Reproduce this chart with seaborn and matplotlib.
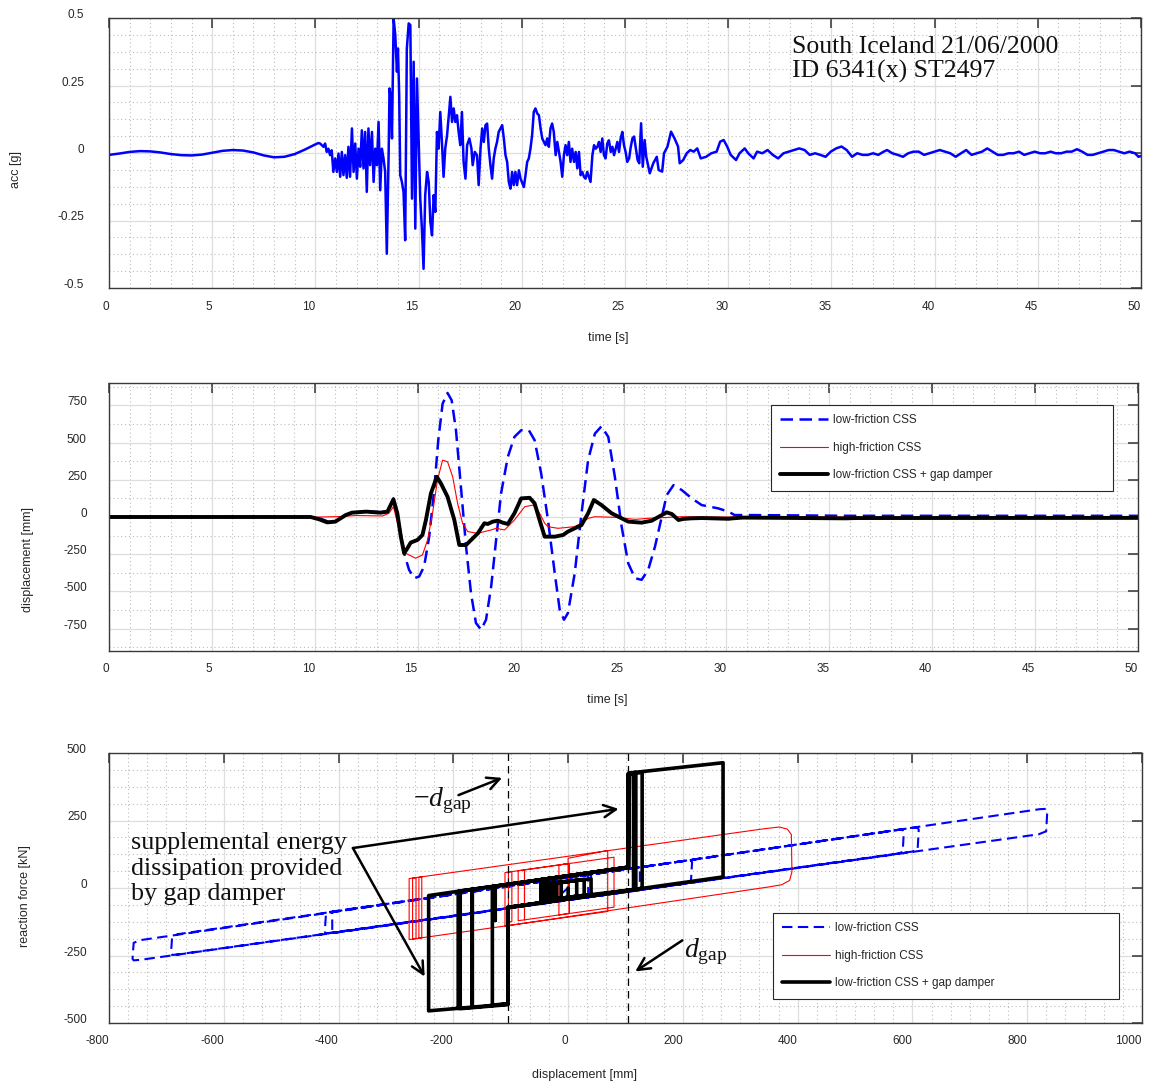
# plot.py
# three-panel figure: ground motion, displacement histories, hysteresis loops

import matplotlib
matplotlib.use('Agg')
import matplotlib.pyplot as plt
from matplotlib.ticker import MultipleLocator
import seaborn as sns

# ---- panel 1: ground acceleration (time [s], acc [g]) ----
acc_t = [0, 0.5, 1.0, 1.5, 2.0, 2.5, 3.0, 3.5, 4.0, 4.5, 5.0, 5.5, 6.0, 6.5,
         7.0, 7.5, 8.0, 8.5, 9.0, 9.5, 10.0, 10.15,
         10.23, 10.39, 10.47, 10.55, 10.63, 10.71, 10.79, 10.87, 10.96, 11.04,
         11.12, 11.20, 11.28, 11.36, 11.44, 11.52, 11.60, 11.68, 11.77, 11.85,
         11.93, 12.01, 12.09, 12.17, 12.25, 12.33, 12.41, 12.49, 12.57, 12.65,
         12.74, 12.82, 12.90, 12.98, 13.06, 13.14, 13.22, 13.30, 13.38, 13.46,
         13.55, 13.59, 13.66, 13.71, 13.79, 13.87, 13.95, 14.00, 14.06, 14.11,
         14.19, 14.27, 14.35, 14.43, 14.52, 14.60, 14.68, 14.76, 14.84, 14.92,
         15.00, 15.08, 15.16, 15.24, 15.32, 15.41, 15.49, 15.57, 15.65, 15.73,
         15.81, 15.89, 15.97, 16.05, 16.13, 16.21, 16.29, 16.38, 16.54, 16.62,
         16.70, 16.78, 16.86, 16.94, 17.02, 17.10, 17.18, 17.27,
         17.35, 17.46, 17.56, 17.62, 17.72, 17.83, 17.91, 18.00, 18.08, 18.16,
         18.24, 18.32, 18.40, 18.48, 18.56, 18.64, 18.72, 18.80, 18.88, 18.97,
         19.05, 19.13, 19.21, 19.29, 19.37, 19.45, 19.53, 19.61, 19.69, 19.77,
         19.86, 19.94, 20.10, 20.18, 20.26, 20.34, 20.42, 20.50, 20.58, 20.66,
         20.75, 20.83, 20.91, 20.99, 21.07, 21.15, 21.23, 21.31, 21.39, 21.47,
         21.55, 21.64, 21.72, 21.80, 21.88, 21.96, 22.04, 22.12, 22.20, 22.28,
         22.36, 22.44, 22.53, 22.61, 22.69, 22.77, 22.85, 22.93, 23.01, 23.09,
         23.17, 23.25, 23.33, 23.42, 23.50, 23.58, 23.66, 23.74, 23.82, 23.90,
         23.98, 24.06, 24.14, 24.22, 24.31, 24.39, 24.47, 24.55, 24.63, 24.71,
         24.79, 24.87, 24.95, 25.03, 25.11, 25.20, 25.28, 25.36,
         25.44, 25.61, 25.69, 25.78, 25.86, 25.95, 26.03, 26.20, 26.37, 26.54,
         26.63, 26.80, 26.89, 27.06, 27.23, 27.40, 27.57, 27.65, 27.82, 27.99,
         28.16, 28.33, 28.50, 28.67, 28.93, 29.18, 29.44, 29.61, 29.78, 29.95,
         30.12, 30.38, 30.55, 30.80, 30.97, 31.23, 31.40, 31.65, 31.91, 32.16,
         32.42, 32.68, 32.93, 33.19, 33.44, 33.70, 33.95, 34.21, 34.46, 34.72,
         34.97, 35.23, 35.49, 35.74, 36.00, 36.25, 36.51, 36.76, 37.02, 37.27,
         37.53, 37.70, 37.95, 38.21, 38.47, 38.72, 38.98, 39.23, 39.49, 39.74,
         40.00, 40.25, 40.51, 40.76, 41.02, 41.28, 41.53, 41.79, 42.04, 42.30,
         42.55, 42.81, 43.06, 43.32, 43.58, 43.83, 44.09, 44.34, 44.60, 44.85,
         45.11, 45.36, 45.62, 45.87, 46.13, 46.39, 46.64, 46.90, 47.15, 47.41,
         47.66, 47.92, 48.17, 48.43, 48.68, 48.94, 49.19, 49.45, 49.71, 49.88,
         50.0]
acc_g = [-0.007, -0.002, 0.004, 0.007, 0.006, 0.002, -0.004, -0.008, -0.009, -0.006,
         0.001, 0.008, 0.011, 0.009, 0.002, -0.009, -0.016, -0.014, -0.004, 0.013,
         0.032, 0.037,
         0.035, 0.023, 0.035, 0.004, 0.016, -0.008, 0.010, -0.070, -0.020, -0.070,
         -0.002, -0.088, 0.004, -0.082, -0.008, -0.092, 0.023, -0.088, 0.091, -0.070,
         0.035, -0.095, 0.016, -0.051, 0.084, -0.057, 0.078, -0.144, 0.091, -0.045,
         0.078, -0.107, 0.016, -0.045, 0.115, -0.138, 0.016, -0.020, -0.070, -0.373,
         0.004, 0.239, 0.202, 0.054, 0.498, 0.437, 0.301, 0.387, 0.214, -0.082,
         -0.107, -0.144, -0.323, 0.387, 0.480, 0.474, -0.169, 0.338, -0.280, 0.276,
         0.054, -0.169, -0.280, -0.429, -0.156, -0.070, -0.107, -0.255, -0.305, -0.156,
         -0.218, 0.078, 0.016, 0.152, 0.041, -0.088, 0.016, 0.066, 0.208, 0.115,
         0.165, 0.115, 0.140, 0.078, 0.029, 0.152, -0.033, -0.095,
         0.029, 0.054, 0.016, -0.045, 0.004, -0.008, -0.119, 0.016, 0.091, 0.041,
         0.103, 0.109, 0.016, -0.045, -0.095, -0.020, 0.016, 0.041, 0.078, 0.091,
         0.103, 0.054, -0.008, -0.033, -0.107, -0.132, -0.070, -0.119, -0.070, -0.119,
         -0.064, -0.095, -0.126, -0.082, -0.033, -0.020, 0.016, 0.066, 0.152, 0.165,
         0.146, 0.140, 0.091, 0.054, 0.041, 0.029, 0.054, 0.023, 0.091, 0.109,
         0.078, -0.008, 0.041, 0.004, -0.033, -0.088, -0.008, 0.029, -0.008, 0.041,
         -0.033, 0.016, -0.033, 0.004, -0.057, 0.004, -0.082, -0.070, -0.088, -0.095,
         -0.070, -0.088, -0.107, -0.008, 0.029, 0.016, 0.023, 0.041, 0.004, 0.054,
         -0.008, -0.020, 0.035, 0.047, 0.004, 0.023, -0.008, 0.016, 0.041, 0.004,
         0.054, 0.078, 0.029, 0.004, -0.033, -0.020, 0.023, 0.054,
         0.061, -0.026, -0.038, 0.110, -0.051, 0.048, -0.014, -0.075, -0.038, -0.014,
         -0.063, -0.069, -0.001, 0.024, 0.079, 0.054, 0.024, -0.038, -0.026, -0.001,
         0.011, 0.005, 0.017, -0.020, -0.014, -0.001, 0.005, 0.042, 0.048, 0.024,
         -0.007, -0.026, -0.001, 0.017, -0.001, -0.020, 0.005, -0.001, 0.011, -0.007,
         -0.020, -0.001, 0.005, 0.011, 0.017, 0.011, -0.007, -0.001, -0.007, -0.014,
         0.005, 0.017, 0.024, 0.011, -0.014, -0.001, -0.007, -0.007, -0.001, -0.007,
         0.005, 0.011, -0.001, -0.007, -0.014, -0.001, 0.005, 0.005, -0.007, -0.001,
         0.005, 0.011, 0.005, -0.001, -0.014, -0.001, 0.011, -0.007, -0.001, 0.005,
         0.017, 0.005, -0.007, -0.007, -0.001, -0.001, 0.005, -0.007, -0.001, 0.005,
         -0.001, -0.001, 0.005, -0.001, -0.001, 0.005, 0.005, 0.014, 0.005, -0.007,
         -0.007, -0.001, 0.005, 0.011, 0.011, 0.005, -0.001, 0.005, -0.001, -0.014,
         -0.011]

# ---- panel 2: displacement histories (time [s], displacement [mm]) ----
low_t = [0, 9.8, 10.3, 10.7, 11.0, 11.5, 11.9, 12.5, 13.2, 13.55, 13.82, 14.09,
         14.34, 14.58, 14.83, 15.07, 15.31, 15.56, 15.80, 16.0, 16.21, 16.45,
         16.65, 16.86, 17.1, 17.35, 17.59, 17.83, 18.08, 18.32, 18.57, 18.81,
         19.05, 19.38, 19.7, 20.03, 20.4, 20.68, 21.0, 21.33, 21.66, 21.9,
         22.11, 22.3, 22.63, 22.96, 23.28, 23.61, 23.93, 24.26, 24.58, 24.91,
         25.23, 25.56, 25.88, 26.2, 26.53, 26.86, 27.1, 27.43, 27.83, 28.32,
         28.8, 29.6, 30.1, 30.4, 31.1, 36.0, 50.0]
low_d = [0, 0, -12, -34, -30, 12, 30, 38, 32, 40, 125, -43,
         -243, -355, -411, -400, -333, -132, 181, 516, 761, 833,
         784, 583, 203, -199, -512, -712, -757, -690, -467, -154,
         158, 404, 538, 583, 583, 516, 292, -20, -378, -623,
         -690, -645, -378, 24, 382, 560, 609, 538, 270, -65,
         -311, -411, -422, -355, -199, 2, 147, 214, 181, 125,
         80, 58, 36, 13, 13, 8, 8]

high_t = [0, 10.3, 11.2, 12.0, 13.3, 13.6, 13.82, 14.1, 14.42, 14.58, 14.9, 15.23,
          15.48, 15.72, 15.96, 16.21, 16.45, 16.7, 16.94, 17.18, 17.43, 17.92,
          18.24, 18.57, 18.81, 19.22, 19.7, 20.2, 20.6, 20.84, 21.17, 21.33,
          21.82, 22.63, 22.96, 23.28, 23.61, 24.58, 25.56, 26.2, 27.83, 28.8, 50.0]
high_d = [0, 0, 3, 10, 7, 25, 69, -87, -243, -255, -277, -255,
          -154, 24, 248, 382, 371, 270, 91, -42, -98, -110,
          -98, -87, -76, -87, -20, 69, 80, 47, -42, -65,
          -76, -65, -42, -9, 2, -2, -16, -9, 2, 0, -3]

gap_t = [0, 9.8, 10.2, 10.6, 11.0, 11.5, 11.8, 12.5, 13.2, 13.53, 13.82, 14.01,
         14.18, 14.34, 14.5, 14.66, 14.99, 15.23, 15.4, 15.64, 15.93, 16.13,
         16.45, 16.78, 17.02, 17.35, 17.92, 18.24, 18.4, 18.65, 18.89, 19.13,
         19.38, 19.7, 20.03, 20.44, 20.68, 20.92, 21.17, 21.66, 22.06, 22.3,
         22.96, 23.28, 23.56, 23.93, 24.42, 25.23, 25.88, 26.37, 26.78, 27.1,
         27.35, 27.67, 27.92, 28.3, 28.8, 30.1, 30.3, 30.8, 35.8, 36.3, 50.0]
gap_d = [0, 0, -15, -36, -31, 13, 29, 36, 29, 36, 118, 25,
         -132, -243, -210, -172, -154, -121, -20, 158, 270, 225,
         136, -20, -188, -188, -110, -42, -47, -31, -25, -38,
         -47, 25, 125, 129, 92, -20, -132, -132, -121, -98,
         -54, 25, 114, 80, 25, -31, -38, -25, 7, 31,
         20, -20, -13, -9, -7, -12, -9, -4, -9, -7, -6]

# ---- panel 3: force-displacement loops (displacement [mm], reaction force [kN]) ----
low_x = [0, -30, -30, 40, 40, 35, 35, 125, 125, -411, -411, 822, 833, 835, 833, 820,
         -745, -757, -759, -757, -745, 575, 583, 585, 583, 575, -680, -690, -692,
         -690, -680, 600, 609, 611, 609, 600, -414, -422, -424, -422, -414,
         207, 214, 216, 214, 207, 10]
low_f = [0, -54, 29, 50, -33, -35, 49, 77, -8, -167, -89, 292, 293, 285, 210, 199,
         -266, -268, -262, -203, -193, 215, 215, 208, 134, 127, -246, -248, -242,
         -181, -171, 223, 223, 216, 142, 135, -166, -168, -162, -98, -88,
         102, 102, 96, 24, 17, -42]

high_x = [0, 0, 69, 69, -277, -277, -265, -265, -271, -271, -255, -255, -260, -260,
          340, 368, 382, 389, 390, 386, 372, 350, -110, -110, -98, -98, -104, -104,
          -76, -76, -87, -87, 80, 80, -76, -76, 2, 2, -16, -16, 2, 2, 0]
high_f = [0, 110, 139, -87, -191, 35, 38, -188, -189, 37, 41, -185, -186, 40,
          219, 226, 218, 198, 60, 28, 12, 4, -141, 57, 61, -124, -126, 59,
          67, -118, -121, 64, 114, -71, -118, 67, 91, -94, -100, 85, 91, -94, -95]

gap_x = [0, 0, -36, -36, 47, 105, 105, 118, 118, -105, -105, -243, -243,
         -191, -191, -191, -167, -167, -167, 105, 107, 270, 270, -105, -105,
         -188, -188, -127, -127, -127, -42, -42, -47, -47, -25, -25, -47, -47,
         105, 105, 129, 129, -105, -105, -132, -132, 105, 105, 114, 114,
         -45, -45, 40, 40, -30, -30, 28, 28, -20, -20, 15, 15, -12, -12, 5]
gap_f = [0, -40, -51, 34, 59, 77, 425, 428, -5, -72, -430, -455, -28,
         -12, -446, -12, -5, -442, -5, 77, 426, 464, 41, -72, -432,
         -447, -11, 7, -120, 7, 32, -53, -54, 31, 38, -48, -54, 31,
         77, 422, 428, -1, -72, -428, -434, 5, 77, 420, 423, -6,
         -46, 14, 34, -26, -42, 17, 32, -27, -40, 18, 28, -31, -38, 20, 26]

d_gap = 105
legend_labels = ['low-friction CSS', 'high-friction CSS', 'low-friction CSS + gap damper']

# ---- style ----
sns.set_style('white')
plt.rcParams['font.family'] = ['Liberation Sans', 'DejaVu Sans']
plt.rcParams['mathtext.fontset'] = 'custom'
plt.rcParams['mathtext.rm'] = 'Liberation Serif'
plt.rcParams['mathtext.it'] = 'Liberation Serif:italic'

TXT = '#262626'


def style_axes(ax, xt, xl, yt, yl, xminor, yminor, ypad):
    ax.set_xticks(xt, labels=xl)
    ax.set_yticks(yt, labels=yl)
    ax.xaxis.set_minor_locator(MultipleLocator(xminor))
    ax.yaxis.set_minor_locator(MultipleLocator(yminor))
    ax.grid(True, which='major', color='#dedede', lw=0.9, ls='-')
    ax.grid(True, which='minor', color='#bdbdbd', lw=0.8, ls=(0, (1, 2.5)))
    ax.set_axisbelow(True)
    ax.tick_params(which='major', direction='in', length=7.5, width=1.1,
                   top=True, right=True, labelsize=8.5, color='#333333',
                   labelcolor=TXT)
    ax.tick_params(axis='x', which='major', pad=9)
    ax.tick_params(axis='y', which='major', pad=ypad)
    ax.tick_params(which='minor', length=0)
    for lbl in ax.get_xticklabels():
        lbl.set_horizontalalignment('right')
    for lbl in ax.get_yticklabels():
        lbl.set_verticalalignment('baseline')
    for s in ax.spines.values():
        s.set_color('#3a3a3a')
        s.set_linewidth(1.0)


def add_legend(ax, handles, x0, w, top):
    leg = ax.legend(handles, legend_labels, loc='upper left',
                    bbox_to_anchor=(x0, top - 0.6, w, 0.6), mode='expand',
                    borderaxespad=0, fontsize=8.5, handlelength=4.0,
                    handletextpad=0.45, labelspacing=1.3, borderpad=0.8,
                    frameon=True, fancybox=False, framealpha=1,
                    edgecolor='#262626', labelcolor=TXT)
    leg.get_frame().set_linewidth(0.8)
    return leg


fig = plt.figure(figsize=(11.5, 10.86), dpi=100)
ax1 = fig.add_axes([109 / 1150, 1 - 288 / 1086, 1032 / 1150, 270 / 1086])
ax2 = fig.add_axes([109 / 1150, 1 - 651 / 1086, 1029 / 1150, 268 / 1086])
ax3 = fig.add_axes([109 / 1150, 1 - 1023 / 1086, 1033 / 1150, 270 / 1086])

# panel 1
sns.lineplot(x=acc_t, y=acc_g, ax=ax1, color='#0000ff', linewidth=1.8,
             sort=False, estimator=None, legend=False)
ax1.set_xlim(0, 50)
ax1.set_ylim(-0.5, 0.5)
style_axes(ax1, list(range(0, 51, 5)), [str(v) for v in range(0, 51, 5)],
           [-0.5, -0.25, 0, 0.25, 0.5], ['-0.5', '-0.25', '0', '0.25', '0.5'],
           1, 0.0625, 18)
ax1.set_xlabel('time [s]', fontsize=9, color=TXT)
ax1.xaxis.set_label_coords(0.484, -0.163)
ax1.set_ylabel('acc [g]', fontsize=9, color=TXT)
ax1.yaxis.set_label_coords(-0.084, 0.44)
ax1.text(33.1, 0.432, 'South Iceland 21/06/2000\nID 6341(x) ST2497',
         family='Liberation Serif', fontsize=18.5, va='top', ha='left',
         linespacing=1.1, color='#111111')

# panel 2
sns.lineplot(x=low_t, y=low_d, ax=ax2, color='#0000ff', linewidth=1.8,
             linestyle='--', sort=False, estimator=None, legend=False)
l_low = ax2.lines[-1]
l_low.set_dashes((5, 2.6))
sns.lineplot(x=high_t, y=high_d, ax=ax2, color='#ff0000', linewidth=0.8,
             sort=False, estimator=None, legend=False)
l_high = ax2.lines[-1]
sns.lineplot(x=gap_t, y=gap_d, ax=ax2, color='black', linewidth=2.8,
             sort=False, estimator=None, legend=False)
l_gap = ax2.lines[-1]
ax2.set_xlim(0, 50)
ax2.set_ylim(-900, 900)
dt = [-750, -500, -250, 0, 250, 500, 750]
style_axes(ax2, list(range(0, 51, 5)), [str(v) for v in range(0, 51, 5)],
           dt, [str(v) for v in dt], 1, 125, 16)
ax2.set_xlabel('time [s]', fontsize=9, color=TXT)
ax2.xaxis.set_label_coords(0.484, -0.16)
ax2.set_ylabel('displacement [mm]', fontsize=9, color=TXT)
ax2.yaxis.set_label_coords(-0.073, 0.34)
add_legend(ax2, [l_low, l_high, l_gap], 0.6433, 0.3324, 0.918)

# panel 3
sns.lineplot(x=low_x, y=low_f, ax=ax3, color='#0000ff', linewidth=1.5,
             linestyle='--', sort=False, estimator=None, legend=False)
h_low = ax3.lines[-1]
h_low.set_dashes((5, 2.6))
sns.lineplot(x=high_x, y=high_f, ax=ax3, color='#ff0000', linewidth=0.8,
             sort=False, estimator=None, legend=False)
h_high = ax3.lines[-1]
sns.lineplot(x=gap_x, y=gap_f, ax=ax3, color='black', linewidth=2.6,
             sort=False, estimator=None, legend=False)
h_gap = ax3.lines[-1]
ax3.axvline(-d_gap, color='black', lw=0.9, ls=(0, (6, 4)))
ax3.axvline(d_gap, color='black', lw=0.9, ls=(0, (6, 4)))
ax3.set_xlim(-800, 1000)
ax3.set_ylim(-500, 500)
xt3 = list(range(-800, 1001, 200))
ft = [-500, -250, 0, 250, 500]
style_axes(ax3, xt3, [str(v) for v in xt3], ft, [str(v) for v in ft],
           200 / 6, 62.5, 16)
ax3.set_xlabel('displacement [mm]', fontsize=9, color=TXT)
ax3.xaxis.set_label_coords(0.46, -0.17)
ax3.set_ylabel('reaction force [kN]', fontsize=9, color=TXT)
ax3.yaxis.set_label_coords(-0.0755, 0.47)
add_legend(ax3, [h_low, h_high, h_gap], 0.6428, 0.335, 0.4074)

arrow = dict(arrowstyle='->', lw=1.8, color='black', mutation_scale=22,
             shrinkA=0, shrinkB=0)
ax3.annotate('', xy=(-115, 408), xytext=(-191, 344), arrowprops=arrow)
ax3.annotate('', xy=(117, -309), xytext=(199, -194), arrowprops=arrow)
ax3.annotate('', xy=(88, 293), xytext=(-375, 148), arrowprops=arrow)
ax3.annotate('', xy=(-250, -328), xytext=(-375, 148), arrowprops=arrow)
ax3.text(-219, 322, r'$-d_{\rm gap}$', fontsize=20, ha='center', va='center',
         color='#111111')
ax3.text(240, -234, r'$d_{\rm gap}$', fontsize=20, ha='center', va='center',
         color='#111111')
ax3.text(-762, 207, 'supplemental energy\ndissipation provided\nby gap damper',
         family='Liberation Serif', fontsize=18.7, ha='left', va='top',
         linespacing=1.2, color='#111111')

fig.savefig('out.png', dpi=100, facecolor='white')
